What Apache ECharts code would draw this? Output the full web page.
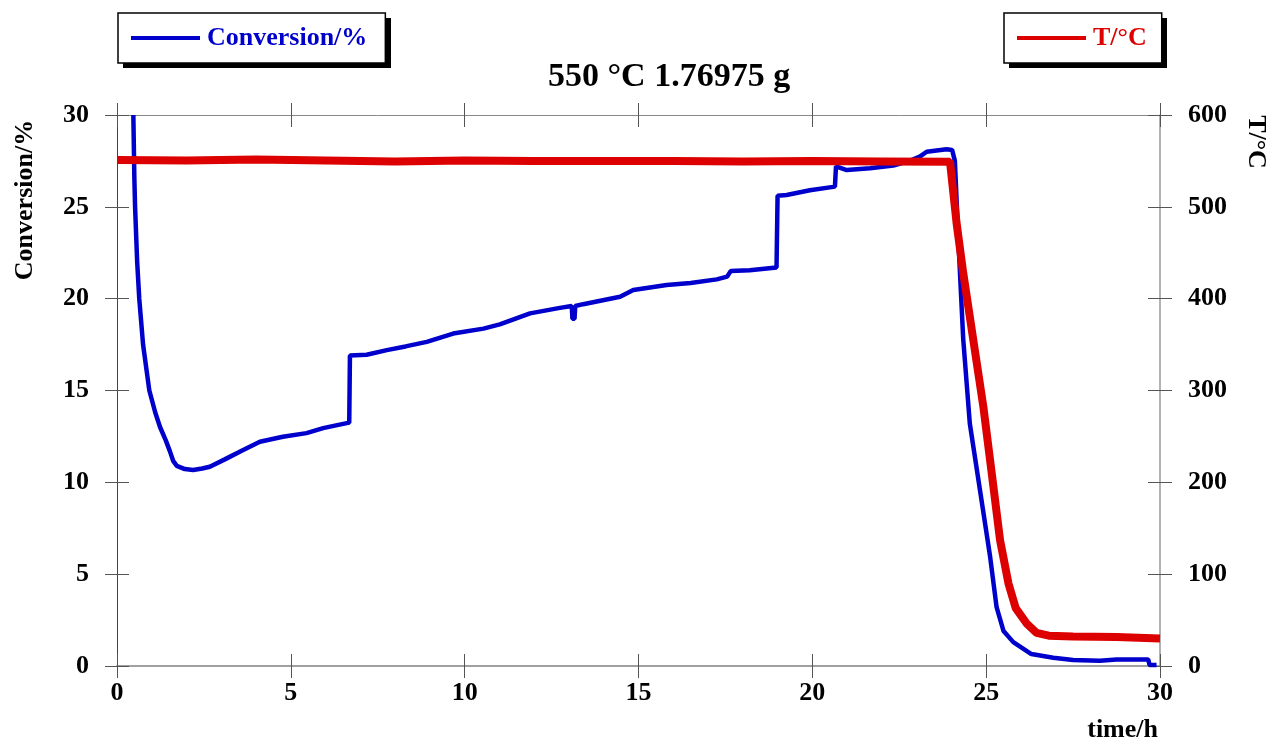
<!DOCTYPE html>
<html>
<head>
<meta charset="utf-8">
<script src="https://cdn.jsdelivr.net/npm/echarts@6/dist/echarts.min.js"></script>
<style>
  html, body { margin: 0; padding: 0; background: #fff; }
  #chart { width: 1270px; height: 744px; }
</style>
</head>
<body>
<div id="chart"></div>
<script>
// conversion (left axis)
const convTime = [0.47, 0.50, 0.52, 0.58, 0.64, 0.75, 0.93, 1.10, 1.24, 1.40, 1.52, 1.62, 1.72, 1.95, 2.19, 2.45, 2.67,
  3.10, 3.63, 4.11, 4.77, 5.45, 5.93, 6.30, 6.68, 6.70, 7.18, 7.76, 8.30, 8.91, 9.67, 10.54, 11.01, 11.88,
  12.74, 13.08, 13.10, 13.16, 13.18, 13.41, 14.47, 14.85, 15.81, 16.50, 17.25, 17.55, 17.65, 18.20, 18.97,
  19.00, 19.26, 19.93, 20.65, 20.68, 20.99, 21.66, 22.33, 22.80, 23.09, 23.29, 23.86, 24.02, 24.10, 24.20,
  24.34, 24.53, 24.82, 25.11, 25.30, 25.50, 25.78, 26.30, 26.93, 27.50, 28.27, 28.75, 29.66, 29.70, 29.90];
const convValue = [30.0, 26.5, 25.0, 22.0, 20.0, 17.5, 15.0, 13.8, 13.0, 12.3, 11.7, 11.15, 10.9, 10.72, 10.67, 10.75, 10.85,
  11.25, 11.76, 12.21, 12.48, 12.68, 12.95, 13.1, 13.25, 16.9, 16.95, 17.2, 17.4, 17.65, 18.1, 18.37, 18.6, 19.2,
  19.5, 19.6, 18.9, 18.9, 19.6, 19.7, 20.1, 20.47, 20.74, 20.85, 21.05, 21.2, 21.5, 21.55, 21.7,
  25.6, 25.64, 25.9, 26.1, 27.2, 27.0, 27.1, 27.25, 27.5, 27.73, 28.0, 28.13, 28.1, 27.5, 23.2,
  17.8, 13.2, 9.6, 6.0, 3.2, 1.9, 1.3, 0.65, 0.45, 0.33, 0.29, 0.35, 0.36, 0.05, 0.05];

// temperature (right axis)
const tempTime = [0, 2, 4, 6, 8, 10, 12, 14, 16, 18, 20, 22, 23.96, 24.15, 24.34, 24.63, 24.92, 25.16,
  25.40, 25.64, 25.85, 26.16, 26.45, 26.8, 27.5, 28.75, 30];
const tempValue = [551, 550.5, 551.5, 550.5, 549.5, 550.5, 550, 550, 550, 549.5, 550, 549.5, 549, 482, 428, 355, 282, 210,
  137, 90, 63, 46.5, 36, 33, 32, 31.5, 30];

const FONT = "Liberation Serif";
const BLUE = "#0000cc";
const RED = "#dd0000";

const chart = echarts.init(document.getElementById("chart"));

const tickOut = { show: true, inside: false, length: 12, lineStyle: { color: "#555", width: 1 } };
const tickIn = { show: true, inside: true, length: 12, lineStyle: { color: "#555", width: 1 } };
const labelStyle = { fontFamily: FONT, fontWeight: "bold", fontSize: 26, color: "#000" };

function xAx(pos, tick, line, label) {
  return {
    type: "value", position: pos, min: 0, max: 30, interval: 5,
    axisLine: line ? { show: true, onZero: false, lineStyle: line } : { show: false, onZero: false },
    axisTick: tick,
    axisLabel: label ? Object.assign({ show: true, margin: 14 }, labelStyle) : { show: false },
    splitLine: { show: false },
  };
}
function yAx(pos, max, interval, tick, line, label) {
  return {
    type: "value", position: pos, min: 0, max: max, interval: interval,
    axisLine: line ? { show: true, onZero: false, lineStyle: line } : { show: false, onZero: false },
    axisTick: tick,
    axisLabel: label ? Object.assign({ show: true, margin: 28 }, labelStyle) : { show: false },
    splitLine: { show: false },
  };
}

const legendBase = {
  orient: "horizontal",
  icon: "rect",
  itemWidth: 69,
  itemHeight: 4,
  itemGap: 0,
  backgroundColor: "#fff",
  borderColor: "#000",
  borderWidth: 1.5,
  borderRadius: 0,
  selectedMode: false,
  z: 10,
};

chart.setOption({
  animation: false,
  backgroundColor: "#fff",
  title: {
    text: "550 °C 1.76975 g",
    left: 543,
    top: 55,
    textStyle: { fontFamily: FONT, fontWeight: "bold", fontSize: 34, color: "#000" },
  },
  legend: [
    Object.assign({}, legendBase, {
      data: ["Conversion/%"],
      left: 118, top: 13,
      padding: [12, 18, 12, 13],
      textStyle: { fontFamily: FONT, fontWeight: "bold", fontSize: 26, color: BLUE, padding: [0, 0, 0, 2] },
    }),
    Object.assign({}, legendBase, {
      data: ["T/°C"],
      left: 1004, top: 13,
      padding: [12, 15, 12, 13],
      textStyle: { fontFamily: FONT, fontWeight: "bold", fontSize: 26, color: RED, padding: [0, 0, 0, 2] },
    }),
  ],
  grid: { left: 117, right: 110, top: 115, bottom: 78, containLabel: false },
  xAxis: [
    xAx("bottom", tickOut, { color: "#a0a0a0", width: 2 }, true),
    xAx("bottom", tickIn, null, false),
    xAx("top", tickOut, { color: "#888", width: 1 }, false),
    xAx("top", tickIn, null, false),
  ],
  yAxis: [
    yAx("left", 30, 5, tickOut, { color: "#444", width: 1 }, true),
    yAx("left", 30, 5, tickIn, null, false),
    yAx("right", 600, 100, tickOut, { color: "#999", width: 1.5 }, true),
    yAx("right", 600, 100, tickIn, null, false),
  ],
  graphic: [
    // drop shadows behind the legend boxes
    { type: "rect", z: 1, shape: { x: 123, y: 18, width: 268, height: 50 }, style: { fill: "#000" } },
    { type: "rect", z: 1, shape: { x: 1009, y: 18, width: 158, height: 50 }, style: { fill: "#000" } },
    {
      type: "text", x: 25, y: 200, rotation: Math.PI / 2,
      style: { text: "Conversion/%", font: "bold 26px " + FONT, fill: "#000", align: "center", verticalAlign: "middle" },
    },
    {
      type: "text", x: 1256, y: 142, rotation: -Math.PI / 2,
      style: { text: "T/°C", font: "bold 26px " + FONT, fill: "#000", align: "center", verticalAlign: "middle" },
    },
    {
      type: "text", x: 1158, y: 730,
      style: { text: "time/h", font: "bold 26px " + FONT, fill: "#000", align: "right", verticalAlign: "middle" },
    },
  ],
  series: [
    {
      name: "Conversion/%",
      type: "line",
      xAxisIndex: 0, yAxisIndex: 0,
      data: convTime.map((t, i) => [t, convValue[i]]),
      showSymbol: false,
      symbol: "none",
      smooth: false,
      itemStyle: { color: BLUE },
      lineStyle: { color: BLUE, width: 4.5 },
    },
    {
      name: "T/°C",
      type: "line",
      xAxisIndex: 0, yAxisIndex: 2,
      data: tempTime.map((t, i) => [t, tempValue[i]]),
      showSymbol: false,
      symbol: "none",
      smooth: false,
      itemStyle: { color: RED },
      lineStyle: { color: RED, width: 8 },
    },
  ],
});
</script>
</body>
</html>
